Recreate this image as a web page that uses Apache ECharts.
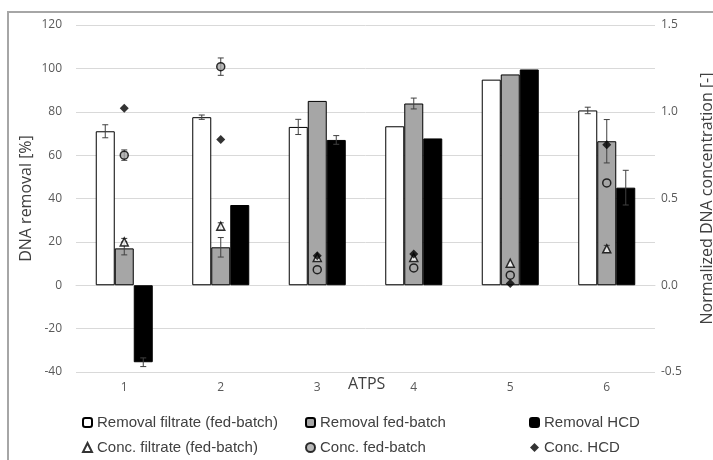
<!DOCTYPE html>
<html>
<head>
<meta charset="utf-8">
<script src="https://cdn.jsdelivr.net/npm/echarts@6/dist/echarts.min.js"></script>
<style>
  html, body { margin: 0; padding: 0; background: #fff; }
  #main { width: 713px; height: 460px; }
</style>
</head>
<body>
<div id="main"></div>
<script>
// ATPS runs
var categories = ['1', '2', '3', '4', '5', '6'];

// DNA removal [%] (left axis) and error
var removalFiltrate    = [71, 77.5, 73, 73.3, 94.8, 80.6];
var removalFiltrateErr = [3, 1, 3.5, 0, 0, 1.5];
var removalFedBatch    = [17, 17.5, 85, 83.8, 97.2, 66.4];
var removalFedBatchErr = [3, 4.5, 0, 2.5, 0, 10];
var removalHCD         = [-35.5, 37, 67, 67.7, 99.5, 45];
var removalHCDErr      = [2, 0, 2, 0, 0, 8];

// Normalized DNA concentration [-] (right axis) and error
var concFiltrate    = [0.25, 0.34, 0.16, 0.16, 0.127, 0.21];
var concFiltrateErr = [0.02, 0.02, 0, 0, 0, 0.02];
var concFedBatch    = [0.75, 1.26, 0.09, 0.10, 0.058, 0.59];
var concFedBatchErr = [0.03, 0.05, 0, 0, 0, 0];
var concHCD         = [1.02, 0.84, 0.17, 0.18, 0.01, 0.81];

var leftTicks  = { min: -40, max: 120, interval: 20 };
var rightTicks = { min: -0.5, max: 1.5, interval: 0.5 };

var myChart = echarts.init(document.getElementById('main'));

function withErr(vals, errs) {
    return vals.map(function (v, i) { return [i, v, errs[i]]; });
}

// error whiskers, offset in px from the category centre
function errorBars(data, offset, axisIdx) {
    return {
        type: 'custom',
        yAxisIndex: axisIdx,
        z: 10,
        silent: true,
        data: data.filter(function (d) { return d[2] > 0; }),
        renderItem: function (params, api) {
            var i = api.value(0), v = api.value(1), e = api.value(2);
            var hi = api.coord([i, v + e]);
            var lo = api.coord([i, v - e]);
            var x = hi[0] + offset;
            var st = { stroke: '#404040', lineWidth: 1 };
            return {
                type: 'group',
                children: [
                    { type: 'line', shape: { x1: x, y1: hi[1], x2: x, y2: lo[1] }, style: st },
                    { type: 'line', shape: { x1: x - 3, y1: hi[1], x2: x + 3, y2: hi[1] }, style: st },
                    { type: 'line', shape: { x1: x - 3, y1: lo[1], x2: x + 3, y2: lo[1] }, style: st }
                ]
            };
        }
    };
}

var tickFont = { color: '#595959', fontSize: 12, fontFamily: 'Open Sans' };
var legendText = { color: '#404040', fontSize: 15, fontFamily: "'Liberation Sans Narrow', 'Liberation Sans', sans-serif" };

function legendCol(left, names) {
    return {
        left: left, top: 410, orient: 'vertical', itemGap: 10,
        itemWidth: 9, itemHeight: 9, textStyle: legendText,
        data: names
    };
}

var option = {
    animation: false,
    grid: { left: 76, right: 58, top: 25, bottom: 88, outerBoundsMode: 'none' },
    graphic: [
        { type: 'rect', shape: { x: 8, y: 12, width: 720, height: 470 },
          style: { fill: null, stroke: '#a6a6a6', lineWidth: 2 }, silent: true },
        { type: 'text', left: 348, top: 376,
          style: { text: 'ATPS', fill: '#404040', fontSize: 16, fontFamily: 'Open Sans' } }
    ],
    legend: [
        legendCol(77, ['Removal filtrate (fed-batch)', 'Conc. filtrate (fed-batch)']),
        legendCol(300, ['Removal fed-batch', 'Conc. fed-batch']),
        legendCol(524, ['Removal HCD', 'Conc. HCD'])
    ],
    xAxis: {
        type: 'category',
        data: categories,
        axisLine: { onZero: true, lineStyle: { color: '#d9d9d9' } },
        axisTick: { show: false },
        axisLabel: Object.assign({ margin: 10 }, tickFont)
    },
    yAxis: [
        {
            type: 'value', min: leftTicks.min, max: leftTicks.max, interval: leftTicks.interval,
            name: 'DNA removal [%]', nameLocation: 'middle', nameGap: 42, nameRotate: 90,
            nameMoveOverlap: false,
            nameTextStyle: { color: '#404040', fontSize: 16, fontFamily: 'Open Sans' },
            axisLine: { show: false }, axisTick: { show: false },
            axisLabel: Object.assign({ margin: 14 }, tickFont),
            splitLine: { lineStyle: { color: '#d9d9d9', width: 1 } }
        },
        {
            type: 'value', min: rightTicks.min, max: rightTicks.max, interval: rightTicks.interval,
            name: 'Normalized DNA concentration [-]', nameLocation: 'middle', nameGap: 44, nameRotate: 90,
            nameTextStyle: { color: '#404040', fontSize: 16, fontFamily: 'Open Sans' },
            axisLine: { show: false }, axisTick: { show: false },
            axisLabel: Object.assign({ margin: 6, formatter: function (v) { return v.toFixed(1); } }, tickFont),
            splitLine: { show: false }
        }
    ],
    series: [
        { name: 'Removal filtrate (fed-batch)', type: 'bar', barWidth: 19, barGap: '0%',
          itemStyle: { color: '#ffffff', borderColor: '#000', borderWidth: 1 },
          data: removalFiltrate },
        { name: 'Removal fed-batch', type: 'bar', barWidth: 19, barGap: '0%',
          itemStyle: { color: '#a6a6a6', borderColor: '#000', borderWidth: 1 },
          data: removalFedBatch },
        { name: 'Removal HCD', type: 'bar', barWidth: 19, barGap: '0%',
          itemStyle: { color: '#000000', borderColor: '#000', borderWidth: 1 },
          data: removalHCD },
        errorBars(withErr(removalFiltrate, removalFiltrateErr), -19, 0),
        errorBars(withErr(removalFedBatch, removalFedBatchErr), 0, 0),
        errorBars(withErr(removalHCD, removalHCDErr), 19, 0),
        errorBars(withErr(concFiltrate, concFiltrateErr), 0, 1),
        errorBars(withErr(concFedBatch, concFedBatchErr), 0, 1),
        { name: 'Conc. filtrate (fed-batch)', type: 'scatter', yAxisIndex: 1, z: 12,
          symbol: 'triangle', symbolSize: 8,
          itemStyle: { color: '#ffffff', borderColor: '#000', borderWidth: 1.5 },
          data: concFiltrate },
        { name: 'Conc. fed-batch', type: 'scatter', yAxisIndex: 1, z: 12,
          symbol: 'circle', symbolSize: 8,
          itemStyle: { color: '#a6a6a6', borderColor: '#000', borderWidth: 1.5 },
          data: concFedBatch },
        { name: 'Conc. HCD', type: 'scatter', yAxisIndex: 1, z: 12,
          symbol: 'diamond', symbolSize: 9,
          itemStyle: { color: '#000000' },
          data: concHCD }
    ]
};

myChart.setOption(option, true);
</script>
</body>
</html>
